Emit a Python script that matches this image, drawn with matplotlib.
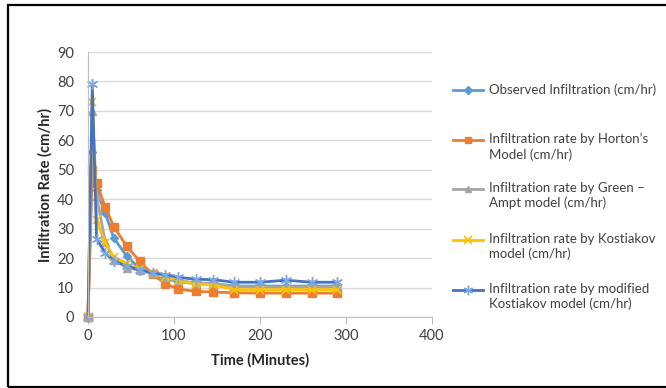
import numpy as np
import matplotlib.pyplot as plt
from matplotlib.lines import Line2D
from matplotlib.patches import Rectangle

plt.rcParams['font.family'] = ['Lato', 'DejaVu Sans']

# time (minutes)
t = [0, 5, 10, 20, 30, 45, 60, 75, 90, 105, 125, 145, 170, 200, 230, 260, 290]

# infiltration rates (cm/hr)
observed = [0, 56, 43, 35.3, 26.8, 20.7, 16.5, 14.5, 13, 12, 11.3, 11.3, 10.5, 10.5, 10.5, 10.5, 10.5]
horton = [0, 50, 45.5, 37.3, 30.7, 24, 19, 14.5, 11.3, 9.5, 8.7, 8.5, 8.2, 8.1, 8.1, 8.1, 8.1]
green_ampt = [0, 70, 41, 25.6, 19.5, 16.8, 15.8, 14.8, 13.5, 12.5, 11.5, 11.5, 10.3, 10.2, 10.2, 10.2, 10.2]
kostiakov = [0, 73, 33, 25, 20.5, 18, 16.3, 15, 13.5, 12.3, 11.2, 11, 9.3, 9.3, 9.3, 9.3, 9.3]
mod_kostiakov = [0, 79, 26.5, 21.8, 19, 17.3, 16, 15, 14.4, 13.5, 12.8, 12.7, 11.8, 11.8, 12.5, 11.8, 11.8]

labels = ["Observed Infiltration (cm/hr)",
          "Infiltration rate by Horton\u2019s\nModel (cm/hr)",
          "Infiltration rate by Green \u2013\nAmpt model (cm/hr)",
          "Infiltration rate by Kostiakov\nmodel (cm/hr)",
          "Infiltration rate by modified\nKostiakov model (cm/hr)"]

star = (6, 2, 0)
styles = [
    dict(color='#5B9BD5', marker='D', ms=4.5, mec='#5B9BD5', mfc='#5B9BD5'),
    dict(color='#ED7D31', marker='s', ms=5.5, mec='#ED7D31', mfc='#ED7D31'),
    dict(color='#A5A5A5', marker='^', ms=5.5, mec='#A5A5A5', mfc='#A5A5A5'),
    dict(color='#FFC000', marker='x', ms=6, mec='#FFC000', mew=1.2),
    dict(color='#4472C4', marker=star, ms=8, mec='#7FA7DD', mew=1.0),
]
series = [observed, horton, green_ampt, kostiakov, mod_kostiakov]

fig = plt.figure(figsize=(6.66, 3.88), dpi=100)
ax = fig.add_axes([88/666, 1-317/388, 344/666, 265/388])

for y, st in zip(series, styles):
    ax.plot(t, y, lw=2.0, clip_on=False, **st)

ax.set_xlim(0, 400)
ax.set_ylim(0, 90)
ax.set_xticks(np.arange(0, 401, 100))
ax.set_yticks(np.arange(0, 91, 10))
ax.yaxis.grid(True, color='#D9D9D9', lw=1.0)
ax.set_axisbelow(True)
for s in ['top', 'right']:
    ax.spines[s].set_visible(False)
ax.spines['left'].set_color('#BFBFBF')
ax.spines['bottom'].set_color('#BFBFBF')
ax.tick_params(axis='y', length=0, pad=10, labelsize=10.5)
ax.tick_params(axis='x', length=5, color='#BFBFBF', pad=4, labelsize=10.5)
for lab in ax.get_xticklabels() + ax.get_yticklabels():
    lab.set_color('#404040')
ax.set_xlabel("Time (Minutes)", fontsize=10.5, fontweight='bold', color='#262626', labelpad=7)
ax.set_ylabel("Infiltration Rate (cm/hr)", fontsize=10.5, fontweight='bold', color='#262626', labelpad=3)

# legend drawn by hand so the sample sits at the first text line
W, H = 666, 388
rows = [90, 140, 189, 240, 290]
for yy, lab, st in zip(rows, labels, styles):
    fy = 1 - yy/H
    fig.add_artist(Line2D([453/W, 483/W], [fy, fy], transform=fig.transFigure,
                          color=st['color'], lw=2.0))
    fig.add_artist(Line2D([468/W], [fy], transform=fig.transFigure, ls='none',
                          marker=st['marker'], ms=st['ms']*0.85, mec=st['mec'],
                          mfc=st.get('mfc', 'none'), mew=st.get('mew', 1.0)))
    fig.text(489/W, fy + 7/H, lab, fontsize=9.5, color='#404040', va='top',
             ha='left', linespacing=1.25)

fig.add_artist(Rectangle((8/W, 1.5/H), 1.1, 1-6.5/H, transform=fig.transFigure,
                         fill=False, ec='black', lw=1.6))

fig.savefig("out.png", dpi=100)
